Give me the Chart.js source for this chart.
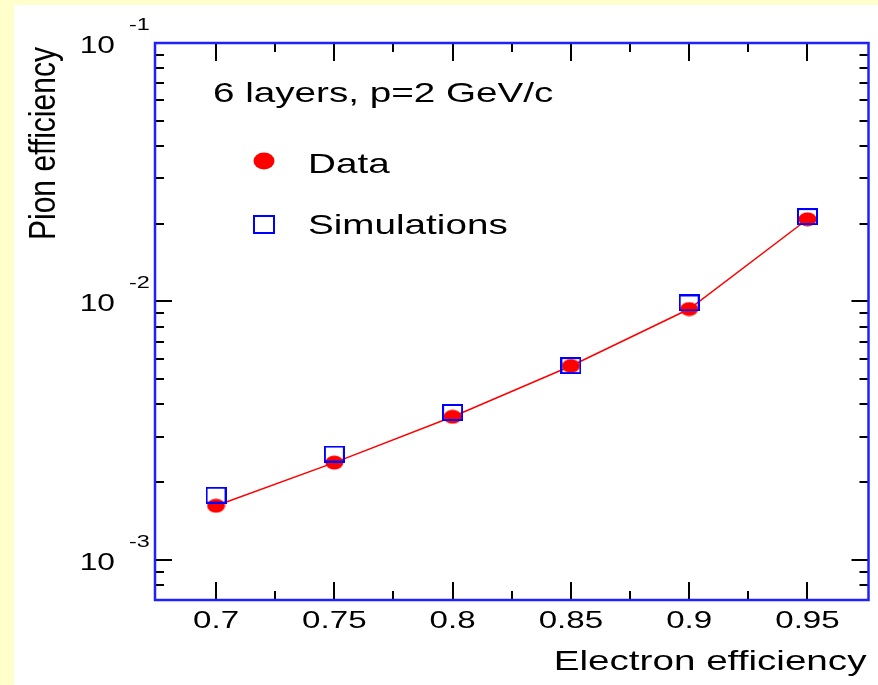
<!DOCTYPE html>
<html>
<head>
<meta charset="utf-8">
<script src="https://cdn.jsdelivr.net/npm/chart.js@4"></script>
<style>
  body { margin: 0; background: #ffffcc; }
  #wrap { position: absolute; left: 14px; top: 5px; width: 864px; height: 680px; background: #fff; }
</style>
</head>
<body>
<div id="wrap"><canvas id="chart" width="864" height="680"></canvas></div>
<script>
// electron efficiency (x) and pion efficiency (y)
const electronEff = [0.7, 0.75, 0.8, 0.85, 0.9, 0.95];
const dataPionEff = [0.00162, 0.00238, 0.00358, 0.00563, 0.00935, 0.0208];
const simPionEff = [0.00178, 0.00257, 0.00372, 0.00565, 0.00987, 0.0213];

// tick labels
const xTickValues = [0.7, 0.75, 0.8, 0.85, 0.9, 0.95];
const xTickLabels = ['0.7', '0.75', '0.8', '0.85', '0.9', '0.95'];
const xMinorTicks = [0.725, 0.775, 0.825, 0.875, 0.925];
const yDecades = [-1, -2, -3];

const RED = '#ff0000';
const BLUE = '#0000ff';
const FONT = '"Liberation Sans", Arial, Helvetica, sans-serif';
const SX = 1.38; // the original glyphs are drawn wide

// marker images (the reference markers are a bit wider than tall)
function makeDot(w, h) {
  const c = document.createElement('canvas');
  c.width = w; c.height = h;
  const g = c.getContext('2d');
  g.fillStyle = RED;
  g.beginPath();
  g.ellipse(w / 2, h / 2, w / 2 - 0.5, h / 2 - 0.5, 0, 0, Math.PI * 2);
  g.fill();
  return c;
}
function makeBox(w, h) {
  const c = document.createElement('canvas');
  c.width = w; c.height = h;
  const g = c.getContext('2d');
  g.strokeStyle = BLUE;
  g.lineWidth = 2;
  g.strokeRect(1, 1, w - 2, h - 2);
  return c;
}
const dotImg = makeDot(19, 15);
const boxImg = makeBox(21, 17);
const legDot = makeDot(22, 18);
const legBox = makeBox(22, 19);

function text(ctx, str, x, y, size, align, sx) {
  ctx.save();
  ctx.translate(x, y);
  ctx.scale(sx, 1);
  ctx.font = size + 'px ' + FONT;
  ctx.textAlign = align;
  ctx.textBaseline = 'alphabetic';
  ctx.fillStyle = '#000';
  ctx.fillText(str, 0, 0);
  ctx.restore();
}

const framePlugin = {
  id: 'frame',
  afterDraw(chart) {
    const ctx = chart.ctx;
    const a = chart.chartArea;
    const xs = chart.scales.x;
    const ys = chart.scales.y;

    // ticks
    ctx.save();
    ctx.strokeStyle = '#000';
    ctx.lineWidth = 2;
    ctx.beginPath();
    for (let d = -4; d <= -1; d++) {
      for (let m = 1; m <= 9; m++) {
        const v = m * Math.pow(10, d);
        if (v < ys.min * 0.999 || v > ys.max * 1.001) continue;
        const y = Math.round(ys.getPixelForValue(v));
        const len = m === 1 ? 17 : 9;
        ctx.moveTo(a.left, y); ctx.lineTo(a.left + len, y);
        ctx.moveTo(a.right, y); ctx.lineTo(a.right - len, y);
      }
    }
    xTickValues.forEach(v => {
      const x = Math.round(xs.getPixelForValue(v));
      ctx.moveTo(x, a.bottom); ctx.lineTo(x, a.bottom - 18);
      ctx.moveTo(x, a.top); ctx.lineTo(x, a.top + 18);
    });
    xMinorTicks.forEach(v => {
      const x = Math.round(xs.getPixelForValue(v));
      ctx.moveTo(x, a.bottom); ctx.lineTo(x, a.bottom - 9);
      ctx.moveTo(x, a.top); ctx.lineTo(x, a.top + 9);
    });
    ctx.stroke();

    // frame
    ctx.strokeStyle = '#2020ff';
    ctx.lineWidth = 2.5;
    ctx.strokeRect(a.left, a.top, a.right - a.left, a.bottom - a.top);
    ctx.restore();

    // x tick labels
    xTickValues.forEach((v, i) => {
      text(ctx, xTickLabels[i], xs.getPixelForValue(v), a.bottom + 28, 24, 'center', SX);
    });

    // y tick labels 10^n
    yDecades.forEach(d => {
      const y = ys.getPixelForValue(Math.pow(10, d));
      text(ctx, '10', a.left - 40, y + 10, 23, 'right', SX);
      text(ctx, String(d), a.left - 26, y - 13, 17, 'left', SX);
    });

    // axis titles
    text(ctx, 'Electron efficiency', a.right - 2, a.bottom + 70, 28, 'right', SX);
    ctx.save();
    ctx.translate(a.left - 100, a.top + 197);
    ctx.rotate(-Math.PI / 2);
    ctx.scale(1, 1.2);
    ctx.font = '30px ' + FONT;
    ctx.fillStyle = '#000';
    ctx.textAlign = 'left';
    ctx.fillText('Pion efficiency', 0, 0);
    ctx.restore();

    // annotation and legend
    text(ctx, '6 layers, p=2 GeV/c', a.left + 58, a.top + 59, 28, 'left', SX);
    ctx.drawImage(legDot, a.left + 109 - 11, a.top + 118 - 9);
    text(ctx, 'Data', a.left + 153, a.top + 130, 28, 'left', SX);
    ctx.drawImage(legBox, a.left + 109 - 11, a.top + 181 - 9);
    text(ctx, 'Simulations', a.left + 153, a.top + 191, 28, 'left', SX);
  }
};

new Chart(document.getElementById('chart'), {
  type: 'scatter',
  data: {
    datasets: [{
      label: 'Simulations',
      data: electronEff.map((x, i) => ({ x: x, y: simPionEff[i] })),
      pointStyle: boxImg,
      pointRadius: 8,
      showLine: false,
      order: 0
    }, {
      label: 'Data',
      data: electronEff.map((x, i) => ({ x: x, y: dataPionEff[i] })),
      pointStyle: dotImg,
      pointRadius: 8,
      showLine: true,
      borderColor: RED,
      borderWidth: 1.5,
      order: 1
    }]
  },
  options: {
    responsive: false,
    animation: false,
    devicePixelRatio: 1,
    layout: { padding: { left: 141, top: 38, right: 9, bottom: 85 } },
    plugins: { legend: { display: false }, tooltip: { enabled: false } },
    scales: {
      x: { type: 'linear', min: 0.6742, max: 0.9758, display: false },
      y: { type: 'logarithmic', min: 0.0007, max: 0.1, display: false }
    }
  },
  plugins: [framePlugin]
});
</script>
</body>
</html>
